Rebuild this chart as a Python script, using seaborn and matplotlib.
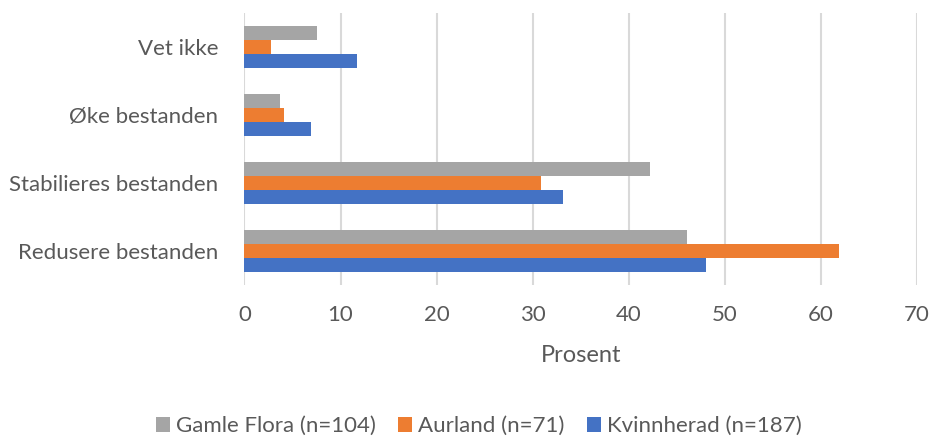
import matplotlib
matplotlib.use("Agg")
import matplotlib.pyplot as plt
import seaborn as sns
import pandas as pd

categories = ["Vet ikke", "Øke bestanden", "Stabilieres bestanden", "Redusere bestanden"]
series = ["Gamle Flora (n=104)", "Aurland (n=71)", "Kvinnherad (n=187)"]
gamle_flora = [7.6, 3.7, 42.2, 46.1]
aurland = [2.8, 4.1, 30.9, 61.9]
kvinnherad = [11.7, 6.9, 33.1, 48.0]
colors = ["#A5A5A5", "#ED7D31", "#4472C4"]
xticks = [0, 10, 20, 30, 40, 50, 60, 70]

rows = []
for s, vals in zip(series, [gamle_flora, aurland, kvinnherad]):
    for c, v in zip(categories, vals):
        rows.append({"Kategori": c, "Serie": s, "Prosent": v})
df = pd.DataFrame(rows)

sns.set_theme(style="white")
plt.rcParams["font.family"] = ["Lato", "DejaVu Sans"]
text_color = "#595959"

fig = plt.figure(figsize=(9.33, 4.38), dpi=100)
ax = fig.add_axes([0.262, 0.349, 0.721, 0.621])
sns.barplot(data=df, y="Kategori", x="Prosent", hue="Serie", order=categories,
            hue_order=series, palette=colors, width=0.62, gap=0, linewidth=0,
            saturation=1, ax=ax, orient="h")

ax.set_xlim(0, 70)
ax.set_xticks(xticks)
ax.set_xticklabels([str(t) for t in xticks], fontsize=16, color=text_color)
ax.tick_params(axis="y", labelsize=16, labelcolor=text_color, length=0, pad=19)
ax.tick_params(axis="x", length=0, pad=14)
ax.set_ylabel("")
ax.set_xlabel("Prosent", fontsize=17, color=text_color, labelpad=15)
ax.grid(axis="x", color="#D9D9D9", linewidth=1.5)
ax.set_axisbelow(True)
for sp in ax.spines.values():
    sp.set_visible(False)

handles, labels = ax.get_legend_handles_labels()
ax.legend_.remove()
fig.legend(handles, labels, loc="center", bbox_to_anchor=(0.513, 0.027), ncol=3,
           frameon=False, fontsize=16, labelcolor=text_color, handlelength=0.65,
           handleheight=0.65, handletextpad=0.25, columnspacing=1.0)

fig.savefig("out.png", dpi=100)
